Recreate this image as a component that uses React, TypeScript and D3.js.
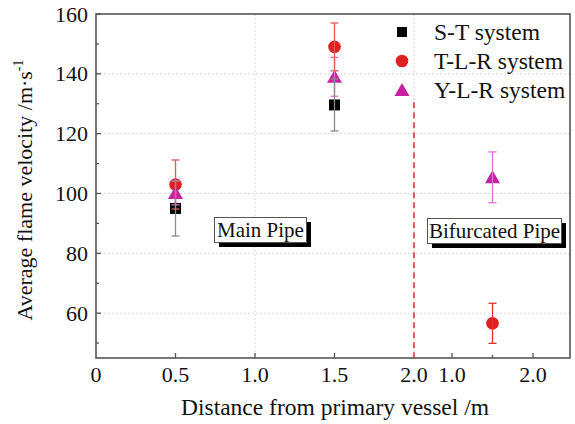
import React from "react";
import * as d3 from "d3";

const W = 575;
const H = 424;

// Main pipe section (distance from primary vessel, m)
const mainX = [0.5, 1.5];
const stMain = [95, 129.6];
const stMainErr = [9.2, 8.7];
const tlrMain = [103, 149];
const tlrMainErr = [8.2, 8];
const ylrMain = [100.2, 139];
const ylrMainErr = [4, 6.5];

// Bifurcated pipe section
const bifX = [1.5];
const tlrBif = [56.6];
const tlrBifErr = [6.7];
const ylrBif = [105.4];
const ylrBifErr = [8.5];

const yTicks = [60, 80, 100, 120, 140, 160];
const yMinor = [50, 70, 90, 110, 130, 150];
const mainTicks = [0, 0.5, 1.0, 1.5, 2.0];
const bifTicks = [1.0, 2.0];
const bifMinor = [1.5];

const legendItems = ["S-T system", "T-L-R system", "Y-L-R system"];

const FONT = "'Liberation Serif', 'Times New Roman', serif";

const left = 96, right = 570, top = 14, bottom = 358;

export default function App() {
  const xMain = d3.scaleLinear().domain([0, 2]).range([96, 414]);
  const xBif = d3.scaleLinear().domain([1, 2]).range([452, 533]);
  const y = d3.scaleLinear().domain([45, 160]).range([bottom, top]);

  const gridColor = "#d8d8d8";
  const axisColor = "#555";

  const square = (cx: number, cy: number, key: string, s = 11) => (
    <rect key={key} x={cx - s / 2} y={cy - s / 2} width={s} height={s} fill="#000" />
  );
  const circle = (cx: number, cy: number, key: string) => (
    <circle key={key} cx={cx} cy={cy} r={6.3} fill="#e02020" />
  );
  const tri = (cx: number, cy: number, key: string) => (
    <path key={key} d={`M${cx},${cy - 7} L${cx + 7.5},${cy + 6} L${cx - 7.5},${cy + 6} Z`} fill="#c8209f" />
  );
  const errBar = (cx: number, v: number, e: number, color: string, key: string) => (
    <g key={key} stroke={color} strokeWidth={1.3}>
      <line x1={cx} x2={cx} y1={y(v - e)} y2={y(v + e)} />
      <line x1={cx - 4} x2={cx + 4} y1={y(v - e)} y2={y(v - e)} />
      <line x1={cx - 4} x2={cx + 4} y1={y(v + e)} y2={y(v + e)} />
    </g>
  );

  const stColor = "#8a8a8a";
  const tlrColor = "#e05a5a";
  const ylrColor = "#e070d0";

  return (
    <svg width={W} height={H} style={{ position: "absolute", left: 0, top: 0, background: "#fff" }}>
      {/* grid */}
      <g stroke={gridColor} strokeWidth={1} strokeDasharray="2,2">
        {yTicks.filter((t) => t < 160).map((t) => (
          <line key={"gy" + t} x1={left} x2={right} y1={y(t)} y2={y(t)} />
        ))}
        {[1.0, 2.0].map((t) => (
          <line key={"gx" + t} x1={xMain(t)} x2={xMain(t)} y1={top} y2={bottom} />
        ))}
      </g>

      {/* divider */}
      <line x1={xMain(2)} x2={xMain(2)} y1={y(130.5)} y2={bottom} stroke="#d43030" strokeWidth={1.5} strokeDasharray="6,4" />

      {/* annotation boxes */}
      <g fontFamily={FONT} fontSize={21} fill="#111">
        <rect x={219} y={222} width={92} height={25} fill="#000" />
        <rect x={214.5} y={217.5} width={92} height={25} fill="#fff" stroke="#555" strokeWidth={1} />
        <text x={260.5} y={237} textAnchor="middle">Main Pipe</text>
        <rect x={432} y={223} width={134} height={25} fill="#000" />
        <rect x={427.5} y={218.5} width={134} height={25} fill="#fff" stroke="#555" strokeWidth={1} />
        <text x={494.5} y={238} textAnchor="middle">Bifurcated Pipe</text>
      </g>

      {/* markers */}
      {mainX.map((x, i) => square(xMain(x), y(stMain[i]), "s" + i))}
      {mainX.map((x, i) => circle(xMain(x), y(tlrMain[i]), "c" + i))}
      {mainX.map((x, i) => tri(xMain(x), y(ylrMain[i]), "t" + i))}
      {bifX.map((x, i) => circle(xBif(x), y(tlrBif[i]), "bc" + i))}
      {bifX.map((x, i) => tri(xBif(x), y(ylrBif[i]), "bt" + i))}

      {/* error bars */}
      {mainX.map((x, i) => errBar(xMain(x), ylrMain[i], ylrMainErr[i], ylrColor, "ey" + i))}
      {mainX.map((x, i) => errBar(xMain(x), tlrMain[i], tlrMainErr[i], tlrColor, "et" + i))}
      {mainX.map((x, i) => errBar(xMain(x), stMain[i], stMainErr[i], stColor, "es" + i))}
      {bifX.map((x, i) => errBar(xBif(x), tlrBif[i], tlrBifErr[i], "#e03030", "bet" + i))}
      {bifX.map((x, i) => errBar(xBif(x), ylrBif[i], ylrBifErr[i], ylrColor, "bey" + i))}

      {/* frame */}
      <rect x={left} y={top} width={right - left} height={bottom - top} fill="none" stroke={axisColor} strokeWidth={1.6} />

      {/* ticks */}
      <g stroke={axisColor} strokeWidth={1.3}>
        {yTicks.map((t) => (
          <line key={"yt" + t} x1={left} x2={left + 5} y1={y(t)} y2={y(t)} />
        ))}
        {yMinor.map((t) => (
          <line key={"ym" + t} x1={left} x2={left + 3} y1={y(t)} y2={y(t)} />
        ))}
        {mainTicks.filter((t) => t > 0 && t < 2).map((t) => (
          <line key={"xt" + t} x1={xMain(t)} x2={xMain(t)} y1={bottom} y2={bottom - 5} />
        ))}
        {bifTicks.map((t) => (
          <line key={"bt" + t} x1={xBif(t)} x2={xBif(t)} y1={bottom} y2={bottom - 5} />
        ))}
        {bifMinor.map((t) => (
          <line key={"bm" + t} x1={xBif(t)} x2={xBif(t)} y1={bottom} y2={bottom - 3} />
        ))}
      </g>

      {/* tick labels */}
      <g fontFamily={FONT} fontSize={22} fill="#111">
        {yTicks.map((t) => (
          <text key={"yl" + t} x={88} y={y(t) + 7.5} textAnchor="end">{t}</text>
        ))}
        {mainTicks.map((t) => (
          <text key={"xl" + t} x={xMain(t)} y={382} textAnchor="middle">{t === 0 ? "0" : t.toFixed(1)}</text>
        ))}
        {bifTicks.map((t) => (
          <text key={"bl" + t} x={xBif(t)} y={382} textAnchor="middle">{t.toFixed(1)}</text>
        ))}
      </g>

      {/* axis titles */}
      <text x={335} y={415} textAnchor="middle" fontFamily={FONT} fontSize={23.5} fill="#111">
        Distance from primary vessel /m
      </text>
      <text
        transform={`translate(32, 190) rotate(-90)`}
        textAnchor="middle"
        fontFamily={FONT}
        fontSize={22}
        fill="#111"
      >
        Average flame velocity /m·s<tspan dy={-9} fontSize={14}>-1</tspan>
      </text>

      {/* legend */}
      <g fontFamily={FONT} fontSize={23.5} fill="#111">
        {legendItems.map((name, i) => {
          const ly = 32 + i * 29;
          const mk = i === 0 ? square(402, ly, "lm" + i, 10) : i === 1 ? circle(402, ly, "lm" + i) : tri(402, ly, "lm" + i);
          return (
            <g key={name}>
              {mk}
              <text x={434} y={ly + 8}>{name}</text>
            </g>
          );
        })}
      </g>
    </svg>
  );
}
